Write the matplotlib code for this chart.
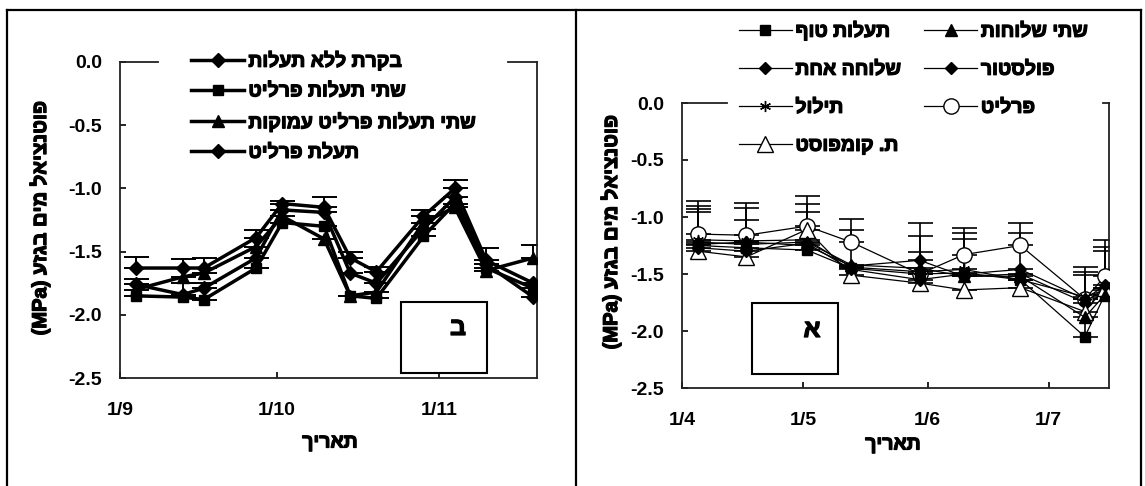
import datetime as dt
import numpy as np
import matplotlib
matplotlib.use("Agg")
from matplotlib import pyplot as plt
import matplotlib.dates as mdates
import matplotlib.patheffects as pe
from matplotlib.patches import Rectangle
from matplotlib.lines import Line2D

plt.rcParams['font.family'] = ['Liberation Sans', 'DejaVu Sans']
plt.rcParams['font.weight'] = 'bold'


def rtl(s):
	# matplotlib has no bidi support, so Hebrew is fed in visual order
	return s[::-1]


def days(lst):
	return mdates.date2num([dt.datetime.strptime(d, "%Y-%m-%d") for d in lst])


# ---------- panel ב (left) ----------
b_dates = ["2005-09-04", "2005-09-13", "2005-09-17", "2005-09-27", "2005-10-02", "2005-10-10",
           "2005-10-15", "2005-10-20", "2005-10-29", "2005-11-04", "2005-11-10", "2005-11-19"]
b_names = ["בקרת ללא תעלות", "שתי תעלות פרליט", "שתי תעלות פרליט עמוקות", "תעלת פרליט"]
b_control = [-1.63, -1.63, -1.63, -1.39, -1.12, -1.15, -1.55, -1.66, -1.22, -1.00, -1.57, -1.75]
b_two = [-1.85, -1.86, -1.88, -1.63, -1.27, -1.30, -1.85, -1.87, -1.38, -1.12, -1.63, -1.79]
b_two_deep = [-1.80, -1.70, -1.67, -1.46, -1.22, -1.40, -1.85, -1.82, -1.27, -1.15, -1.65, -1.55]
b_one = [-1.76, -1.84, -1.79, -1.55, -1.17, -1.19, -1.67, -1.75, -1.32, -1.07, -1.60, -1.86]
b_control_err = [0.09, 0.07, 0.08, 0.06, 0.02, 0.08, 0.05, 0.04, 0.05, 0.07, 0.10, 0.0]
b_two_err = [0.0] * 12
b_two_deep_err = [0.08, 0.0, 0.0, 0.0, 0.0, 0.0, 0.0, 0.0, 0.0, 0.0, 0.0, 0.10]
b_one_err = [0.0, 0.09, 0.04, 0.0, 0.0, 0.0, 0.0, 0.0, 0.0, 0.0, 0.0, 0.0]
b_ticks = ["2005-09-01", "2005-10-01", "2005-11-01"]
b_ticklabels = ["1/9", "1/10", "1/11"]

# ---------- panel א (right) ----------
a_dates = ["2005-04-05", "2005-04-17", "2005-05-02", "2005-05-13", "2005-05-30",
           "2005-06-10", "2005-06-24", "2005-07-10", "2005-07-15"]
a_names = ["תעלות טוף", "שלוחה אחת", "תילול", "ת. קומפוסט", "שתי שלוחות", "פולסטור", "פרליט"]
a_tuff = [-1.25, -1.27, -1.29, -1.45, -1.50, -1.49, -1.55, -2.05, -1.68]
a_one_branch = [-1.24, -1.22, -1.25, -1.43, -1.38, -1.52, -1.50, -1.75, -1.62]
a_tilul = [-1.20, -1.21, -1.20, -1.44, -1.48, -1.46, -1.55, -1.70, -1.64]
a_compost = [-1.30, -1.35, -1.11, -1.51, -1.58, -1.64, -1.62, -1.83, -1.62]
a_two_branch = [-1.22, -1.24, -1.22, -1.42, -1.45, -1.52, -1.52, -1.88, -1.68]
a_polastor = [-1.27, -1.30, -1.23, -1.46, -1.55, -1.50, -1.46, -1.72, -1.60]
a_perlite = [-1.15, -1.16, -1.08, -1.22, -1.50, -1.33, -1.25, -1.72, -1.52]
a_tuff_err = [0.0, 0.24, 0.0, 0.0, 0.0, 0.30, 0.0, 0.54, 0.42]
a_one_branch_err = [0.31, 0.0, 0.0, 0.0, 0.33, 0.0, 0.36, 0.0, 0.0]
a_tilul_err = [0.30, 0.29, 0.0, 0.33, 0.17, 0.0, 0.0, 0.0, 0.0]
a_compost_err = [0.34, 0.0, 0.22, 0.0, 0.0, 0.0, 0.0, 0.39, 0.0]
a_two_branch_err = [0.0, 0.0, 0.26, 0.0, 0.28, 0.0, 0.0, 0.0, 0.0]
a_polastor_err = [0.0, 0.0, 0.0, 0.0, 0.0, 0.36, 0.0, 0.0, 0.30]
a_perlite_err = [0.29, 0.28, 0.26, 0.20, 0.0, 0.23, 0.20, 0.24, 0.32]
a_ticks = ["2005-04-01", "2005-05-01", "2005-06-01", "2005-07-01"]
a_ticklabels = ["1/4", "1/5", "1/6", "1/7"]

yticks = [-2.5, -2.0, -1.5, -1.0, -0.5, 0.0]
ylabel = "(MPa) " + rtl("פוטנציאל מים בגזע")
xlabel = rtl("תאריך")

W, H = 1145, 486
fig = plt.figure(figsize=(W / 100, H / 100), dpi=100)
heavy = [pe.withStroke(linewidth=0.9, foreground='black')]


def px(x0, y0, x1, y1):
	# pixel box -> figure fraction rect
	return [x0 / W, 1 - y1 / H, (x1 - x0) / W, (y1 - y0) / H]


def style_axis(ax, ticks, ticklabels):
	ax.set_ylim(-2.5, 0)
	ax.set_yticks(yticks)
	ax.set_yticklabels(["%.1f" % v for v in yticks])
	ax.set_xticks(days(ticks))
	ax.set_xticklabels(ticklabels)
	ax.tick_params(axis='both', direction='in', length=4, width=1.2, labelsize=14)
	ax.tick_params(axis='y', pad=13)
	ax.tick_params(axis='x', pad=17)
	for s in ax.spines.values():
		s.set_linewidth(1.3)
		s.set_color('#222222')
	ax.spines['top'].set_visible(False)


def err_bars(ax, x, y, e, lw):
	e = np.array(e, dtype=float)
	e[e == 0] = np.nan
	ax.errorbar(x, y, yerr=[np.zeros(len(y)), e], fmt='none', ecolor='black',
	            elinewidth=lw, capsize=9, capthick=lw, zorder=1)


# left panel
axb = fig.add_axes(px(120, 62, 537, 378))
xb = days(b_dates)
b_series = [b_control, b_two, b_two_deep, b_one]
b_errs = [b_control_err, b_two_err, b_two_deep_err, b_one_err]
b_markers = ['D', 's', '^', 'D']
b_sizes = [7, 7.5, 8, 7]
for vals, err, m, ms, name in zip(b_series, b_errs, b_markers, b_sizes, b_names):
	err_bars(axb, xb, vals, err, 1.4)
	axb.plot(xb, vals, color='black', lw=2.5, marker=m, ms=ms, label=rtl(name), zorder=3)
style_axis(axb, b_ticks, b_ticklabels)
axb.set_xlim(days(["2005-09-01"])[0], days(["2005-09-01"])[0] + 79.7)
axb.axhline(0, 0, 0.09, color='#222222', lw=1.3, clip_on=False)
axb.axhline(0, 0.93, 1, color='#222222', lw=1.3, clip_on=False)
leg_b = axb.legend(loc='upper left', bbox_to_anchor=(191 / W, 1 - 51 / H), bbox_transform=fig.transFigure,
                   frameon=False, borderpad=0, borderaxespad=0, handlelength=2.75, handletextpad=0.2,
                   labelspacing=0.62, prop={'size': 14, 'weight': 'bold'})

# right panel
axa = fig.add_axes(px(682, 103, 1109, 388))
xa = days(a_dates)
a_series = [a_tuff, a_one_branch, a_tilul, a_compost, a_two_branch, a_polastor, a_perlite]
a_errs = [a_tuff_err, a_one_branch_err, a_tilul_err, a_compost_err, a_two_branch_err,
          a_polastor_err, a_perlite_err]
a_markers = ['s', 'D', (6, 2, 0), '^', '^', 'D', 'o']
a_sizes = [7, 6.5, 8, 12, 8, 6.5, 11]
a_faces = ['black', 'black', 'black', 'white', 'black', 'black', 'white']
a_order = [4, 5, 6, 7, 8, 9, 3]
for vals, err, m, ms, fc, z, name in zip(a_series, a_errs, a_markers, a_sizes, a_faces, a_order, a_names):
	err_bars(axa, xa, vals, err, 1.2)
	axa.plot(xa, vals, color='black', lw=0.9, marker=m, ms=ms, mfc=fc, mec='black', mew=1.0,
	         label=rtl(name), zorder=z)
style_axis(axa, a_ticks, a_ticklabels)
axa.set_xlim(days(["2005-04-01", "2005-07-16"]))
axa.axhline(0, 0, 0.105, color='#222222', lw=1.3, clip_on=False)
axa.axhline(0, 0.985, 1, color='#222222', lw=1.3, clip_on=False)
leg_a = axa.legend(loc='upper left', bbox_to_anchor=(739 / W, 1 - 21 / H), bbox_transform=fig.transFigure,
                   ncol=2, frameon=False, borderpad=0, borderaxespad=0, handlelength=2.7,
                   handletextpad=0.2, labelspacing=1.05, columnspacing=1.2,
                   prop={'size': 14, 'weight': 'bold'})

for t in leg_b.get_texts() + leg_a.get_texts():
	t.set_path_effects(heavy)

# axis titles
for x, y, s, rot, fs in [(40, 218, ylabel, 90, 14.5), (611, 232, ylabel, 90, 14.5),
                         (330, 443, xlabel, 0, 14), (893, 445, xlabel, 0, 14)]:
	fig.text(x / W, 1 - y / H, s, rotation=rot, ha='center', va='center', fontsize=fs,
	         path_effects=heavy)

# panel letter boxes
for box, letter, pos in [((401, 302, 487, 373), "ב", (458, 328)), ((752, 303, 838, 374), "א", (812, 330))]:
	r = px(*box)
	fig.add_artist(Rectangle((r[0], r[1]), r[2], r[3], transform=fig.transFigure,
	                         fill=False, lw=1.5, edgecolor='black'))
	fig.text(pos[0] / W, 1 - pos[1] / H, letter, ha='center', va='center', fontsize=18,
	         path_effects=heavy)

# table frame around the two charts
for x0, y0, x1, y1 in [(7, 10, 1141, 10), (7, 10, 7, 486), (576, 10, 576, 486), (1141, 10, 1141, 486)]:
	fig.add_artist(Line2D([x0 / W, x1 / W], [1 - y0 / H, 1 - y1 / H], transform=fig.transFigure,
	                      color='black', lw=1.6))

fig.savefig("out.png", dpi=100)
